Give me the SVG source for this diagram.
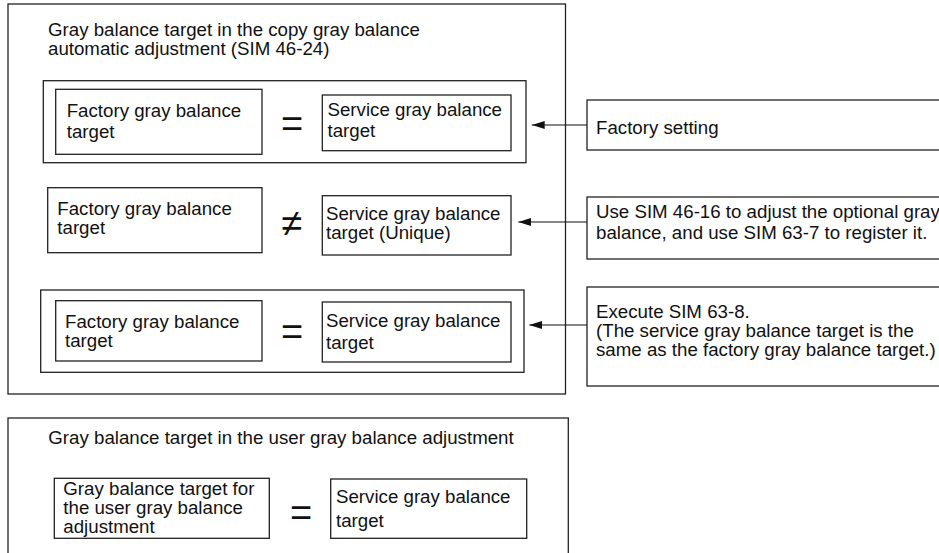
<svg xmlns="http://www.w3.org/2000/svg" width="939" height="553" viewBox="0 0 939 553">
<defs>
<style>
.box{fill:none;stroke:#222;stroke-width:1.3}
.t{font-family:"Liberation Sans",Arial,Helvetica,sans-serif;font-size:18.7px;fill:#111}
.sym{font-family:"Liberation Sans",Arial,sans-serif;font-size:38px;fill:#111;text-anchor:middle}
.ln{stroke:#111;stroke-width:1.2;fill:none}
</style>
<marker id="ah" viewBox="0 0 13 8" refX="13" refY="4" markerWidth="13" markerHeight="8" markerUnits="userSpaceOnUse" orient="auto">
<path d="M0,0 L13,4 L0,8 z" fill="#111"/>
</marker>
</defs>
<rect width="939" height="553" fill="#fff"/>

<g id="copy-adjustment">
<rect class="box" x="8" y="4" width="557.5" height="390"/>
<text class="t" x="48" y="36">Gray balance target in the copy gray balance</text>
<text class="t" x="48" y="55">automatic adjustment (SIM 46-24)</text>
</g>

<g id="group-1">
<rect class="box" x="43.3" y="80.7" width="482.7" height="82"/>
</g>
<g id="factory-1">
<rect class="box" x="55.7" y="89.3" width="206.3" height="65"/>
<text class="t" x="66.7" y="116.7">Factory gray balance</text>
<text class="t" x="66.7" y="137.7">target</text>
</g>
<g id="eq-1"><text class="sym" x="292" y="136.5">=</text></g>
<g id="service-1">
<rect class="box" x="322.3" y="95" width="188.7" height="55.7"/>
<text class="t" x="327.5" y="115.7">Service gray balance</text>
<text class="t" x="327.5" y="136.7">target</text>
</g>

<g id="factory-2">
<rect class="box" x="47.7" y="187.7" width="214.3" height="65"/>
<text class="t" x="57.3" y="215">Factory gray balance</text>
<text class="t" x="57.3" y="234">target</text>
</g>
<g id="neq-2"><text class="sym" x="292" y="236">≠</text></g>
<g id="service-2">
<rect class="box" x="322.3" y="195.7" width="188.7" height="59.3"/>
<text class="t" x="326" y="220">Service gray balance</text>
<text class="t" x="326" y="239">target (Unique)</text>
</g>

<g id="group-3">
<rect class="box" x="40.7" y="290" width="483.3" height="82.3"/>
</g>
<g id="factory-3">
<rect class="box" x="55.7" y="300.7" width="206.3" height="60.3"/>
<text class="t" x="65" y="327.5">Factory gray balance</text>
<text class="t" x="65" y="346.5">target</text>
</g>
<g id="eq-3"><text class="sym" x="292" y="344.5">=</text></g>
<g id="service-3">
<rect class="box" x="322.3" y="302" width="188.7" height="60"/>
<text class="t" x="326" y="326.7">Service gray balance</text>
<text class="t" x="326" y="349">target</text>
</g>

<g id="note-factory-setting">
<rect class="box" x="587" y="100" width="360" height="50"/>
<text class="t" x="596" y="134">Factory setting</text>
</g>
<g id="note-sim-46-16">
<rect class="box" x="587" y="197" width="360" height="62"/>
<text class="t" x="596" y="218">Use SIM 46-16 to adjust the optional gray</text>
<text class="t" x="596" y="239">balance, and use SIM 63-7 to register it.</text>
</g>
<g id="note-sim-63-8">
<rect class="box" x="587" y="287" width="360" height="99"/>
<text class="t" x="596" y="318">Execute SIM 63-8.</text>
<text class="t" x="596" y="337">(The service gray balance target is the</text>
<text class="t" x="596" y="356">same as the factory gray balance target.)</text>
</g>

<g id="user-adjustment">
<rect class="box" x="8" y="418" width="560.3" height="150"/>
<text class="t" x="48.3" y="444">Gray balance target in the user gray balance adjustment</text>
</g>
<g id="user-target">
<rect class="box" x="54.3" y="478.3" width="215" height="60"/>
<text class="t" x="63.3" y="495">Gray balance target for</text>
<text class="t" x="63.3" y="514">the user gray balance</text>
<text class="t" x="63.3" y="533">adjustment</text>
</g>
<g id="eq-4"><text class="sym" x="301" y="525.5">=</text></g>
<g id="service-4">
<rect class="box" x="330.7" y="479" width="196" height="59.3"/>
<text class="t" x="336" y="503.3">Service gray balance</text>
<text class="t" x="336" y="526.7">target</text>
</g>

<g id="connectors">
<line class="ln" x1="587" y1="125" x2="531.7" y2="125" marker-end="url(#ah)"/>
<line class="ln" x1="587" y1="222" x2="518.3" y2="222" marker-end="url(#ah)"/>
<line class="ln" x1="587" y1="325" x2="529.3" y2="325" marker-end="url(#ah)"/>
</g>
</svg>
